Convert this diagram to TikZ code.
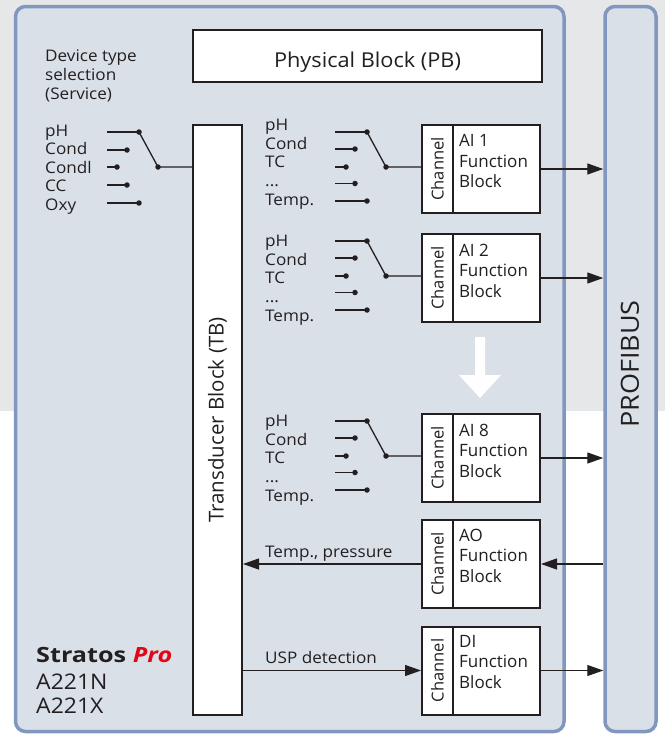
\documentclass[tikz,border=0pt]{standalone}
\usepackage{fontspec}
\setmainfont{Open Sans}
\newfontfamily\lblfont[FakeStretch=1.07]{Open Sans}
\newfontfamily\pbfont[FakeStretch=1.06]{Open Sans}
\newfontfamily\brandfont[FakeStretch=1.2]{Open Sans}
\newfontfamily\modelfont[FakeStretch=1.07]{Open Sans}
\newfontfamily\busfont[FakeStretch=1.08]{Open Sans}
\usetikzlibrary{arrows.meta}
\definecolor{bggray}{HTML}{E6E7E9}
\definecolor{panel}{HTML}{DAE0E8}
\definecolor{pborder}{HTML}{8197BF}
\definecolor{ink}{HTML}{231F20}
\definecolor{prored}{HTML}{E30613}

\newcommand\aiunit[4]{%
  \node[blk, minimum width=31pt, minimum height=88pt] (#1c) at (437.5,#2+44) {};
  \node[blk, minimum width=87pt, minimum height=88pt] (#1f) at (496.5,#2+44) {};
  \node[chantext] (#1ct) at (#1c.center) {Channel};
  \node[fbtext] (#1t) at (459,#2+9.5) {#3\\Function\\Block};
  \node[lbl] (#1l) at (265,#4) {pH\\Cond\\TC\\...\\Temp.};
  \coordinate (#1a1) at (335,#2+7);
  \coordinate (#1a2) at (335,#2+24);
  \coordinate (#1a3) at (335,#2+42);
  \coordinate (#1a4) at (335,#2+58.5);
  \coordinate (#1a5) at (335,#2+76);
  \node[dotc] (#1d1) at (367,#2+7) {};
  \node[dotc] (#1d2) at (355,#2+24) {};
  \node[dotc] (#1d3) at (346,#2+42) {};
  \node[dotc] (#1d4) at (355,#2+58.5) {};
  \node[dotc] (#1d5) at (367,#2+76) {};
  \node[dotc] (#1s) at (386,#2+42) {};
  \draw[wire] (#1a1) -- (#1d1.center);
  \draw[wire] (#1a2) -- (#1d2.center);
  \draw[wire] (#1a3) -- (#1d3.center);
  \draw[wire] (#1a4) -- (#1d4.center);
  \draw[wire] (#1a5) -- (#1d5.center);
  \draw[wire] (#1d1.center) -- (#1s.center) -- (#1c.west |- #1s.center);
  \draw[arr] (#1f.east) -- (#1f.east -| bus.west);
}

\newcommand\fbunit[3]{%
  \node[blk, minimum width=31pt, minimum height=88pt] (#1c) at (437.5,#2+44) {};
  \node[blk, minimum width=87pt, minimum height=88pt] (#1f) at (496.5,#2+44) {};
  \node[chantext] (#1ct) at (#1c.center) {Channel};
  \node[fbtext] (#1t) at (459,#2+8.5) {#3\\Function\\Block};
}

\begin{document}
\begin{tikzpicture}[x=1pt,y=-1pt,
  panelbox/.style={draw=pborder, fill=panel, line width=3.5pt, rounded corners=10pt, inner sep=0pt},
  blk/.style={draw=ink, fill=white, line width=2pt, inner sep=0pt},
  wire/.style={draw=ink, line width=1.3pt},
  arr/.style={wire, -{Triangle[length=16pt,width=11pt]}},
  dotc/.style={circle, fill=ink, inner sep=0pt, minimum size=5.5pt},
  lbl/.style={font=\lblfont\fontsize{16}{18.6}\selectfont, text=ink, inner sep=0pt, align=left, anchor=north west},
  fbtext/.style={font=\fontsize{17}{20.5}\selectfont, text=ink, inner sep=0pt, align=left, anchor=north west},
  chantext/.style={font=\fontsize{16.5}{19}\selectfont, text=ink, inner sep=0pt, rotate=90},
  bigtext/.style={font=\pbfont\fontsize{20.5}{24}\selectfont, text=ink, inner sep=0pt}
]
\useasboundingbox (0,0) rectangle (665,734);
\fill[bggray] (0,0) rectangle (665,411);

% panels
\node[panelbox, minimum width=548.5pt, minimum height=725pt] (dev) at (289.75,369) {};
\node[panelbox, minimum width=51pt, minimum height=725pt] (bus) at (630.5,369) {};
\node[font=\busfont\fontsize{25}{29}\selectfont, text=ink, inner sep=0pt, rotate=90] (bustext) at (630,364) {PROFIBUS};

% physical and transducer blocks
\node[blk, minimum width=349pt, minimum height=52pt] (pb) at (367.5,56) {};
\node[bigtext, anchor=base] (pbtext) at (367.5,67) {Physical Block (PB)};
\node[blk, minimum width=49pt, minimum height=590pt] (tb) at (217.5,420) {};
\node[font=\fontsize{20.5}{24}\selectfont, text=ink, inner sep=0pt, rotate=90] (tbtext) at (217.5,420) {Transducer Block (TB)};

% device type selection
\node[lbl] (devsel) at (45,50) {Device type\\selection\\(Service)};
\node[lbl] (devlist) at (45,124.5) {pH\\Cond\\Condl\\CC\\Oxy};
\coordinate (s1) at (107,132);
\coordinate (s2) at (107,150);
\coordinate (s3) at (107,167);
\coordinate (s4) at (107,185);
\coordinate (s5) at (107,203);
\node[dotc] (t1) at (139,132) {};
\node[dotc] (t2) at (127,150) {};
\node[dotc] (t3) at (117,167) {};
\node[dotc] (t4) at (127,185) {};
\node[dotc] (t5) at (139,203) {};
\node[dotc] (tsw) at (158,167) {};
\draw[wire] (s1) -- (t1.center);
\draw[wire] (s2) -- (t2.center);
\draw[wire] (s3) -- (t3.center);
\draw[wire] (s4) -- (t4.center);
\draw[wire] (s5) -- (t5.center);
\draw[wire] (t1.center) -- (tsw.center) -- (tb.west |- tsw.center);

% AI blocks
\aiunit{ai1}{125}{AI 1}{119}
\aiunit{ai2}{234}{AI 2}{235}
\aiunit{ai8}{414}{AI 8}{415}

% white arrow
\fill[white] (475,337) -- (485,337) -- (485,375) -- (501,375) -- (480,398) -- (459,375) -- (475,375) -- cycle;

% AO block
\fbunit{ao}{520}{AO}
\draw[arr] (aoc.west) -- (aoc.west -| tb.east);
\draw[arr] (aof.east -| bus.west) -- (aof.east);
\node[lbl, anchor=base west] (aolbl) at (265,557) {Temp., pressure};

% DI block
\fbunit{di}{626.5}{DI}
\draw[arr] (dic.west -| tb.east) -- (dic.west);
\draw[arr] (dif.east) -- (dif.east -| bus.west);
\node[lbl, anchor=base west] (dilbl) at (265,663) {USP detection};

% product name
\node[font=\brandfont\fontsize{21}{25}\selectfont\bfseries, text=ink, inner sep=0pt, anchor=base west] (brand) at (36,662) {Stratos \textcolor{prored}{\itshape Pro}};
\node[font=\modelfont\fontsize{21.5}{25}\selectfont, text=ink, inner sep=0pt, anchor=base west] (m1) at (36,689) {A221N};
\node[font=\modelfont\fontsize{21.5}{25}\selectfont, text=ink, inner sep=0pt, anchor=base west] (m2) at (36,713) {A221X};
\end{tikzpicture}
\end{document}
